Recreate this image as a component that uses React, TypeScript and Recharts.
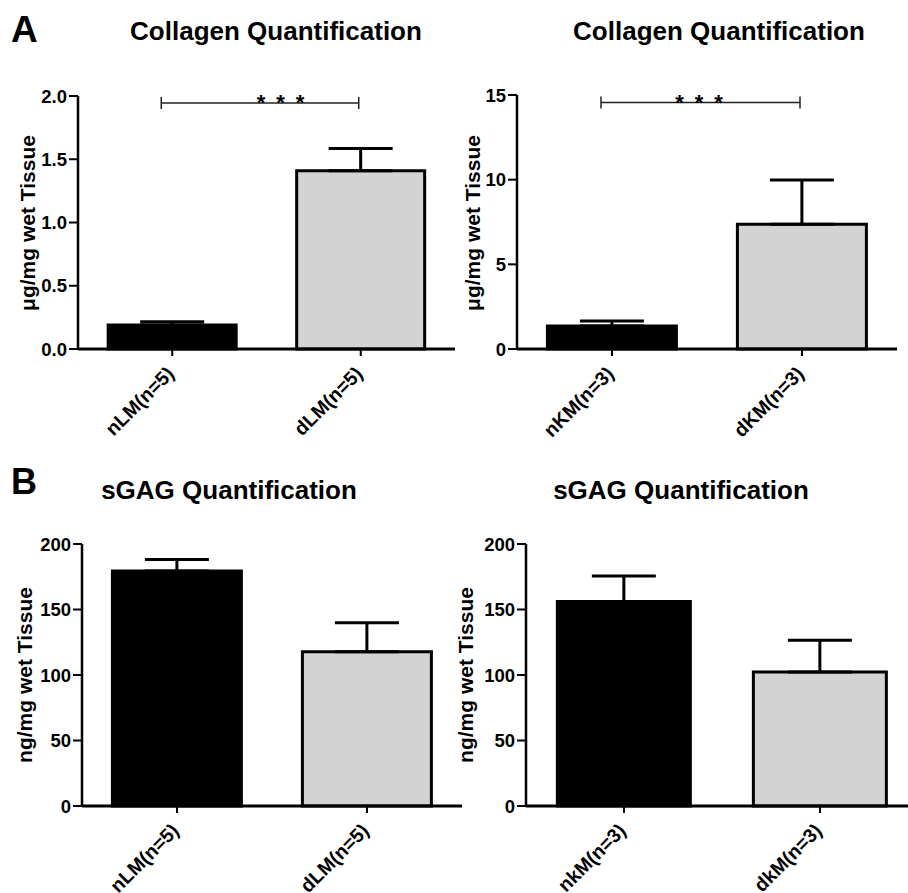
import React from "react";
import { BarChart, Bar, XAxis, YAxis, ErrorBar, Cell, ReferenceLine } from "recharts";

const FONT = "'Liberation Sans', Arial, Helvetica, sans-serif";

// collagen, ligament
const colLmGroups = ["nLM(n=5)", "dLM(n=5)"];
const colLmMean = [0.19, 1.41];
const colLmSem = [0.025, 0.175];
const colLmTicks = [0, 0.5, 1.0, 1.5, 2.0];

// collagen, knee meniscus
const colKmGroups = ["nKM(n=3)", "dKM(n=3)"];
const colKmMean = [1.36, 7.36];
const colKmSem = [0.29, 2.62];
const colKmTicks = [0, 5, 10, 15];

// sGAG
const gagLmGroups = ["nLM(n=5)", "dLM(n=5)"];
const gagLmMean = [179.4, 117.8];
const gagLmSem = [8.8, 22];
const gagKmGroups = ["nkM(n=3)", "dkM(n=3)"];
const gagKmMean = [156.2, 102.3];
const gagKmSem = [19.4, 24.2];
const gagTicks = [0, 50, 100, 150, 200];

const barFills = ["#000000", "#d3d3d3"];

const AngledTick = (props: any) => {
  const { x, y, payload } = props;
  return (
    <g transform={`translate(${x + 3},${y + 17})`}>
      <text
        x={0}
        y={0}
        textAnchor="end"
        transform="rotate(-45)"
        fontFamily={FONT}
        fontWeight="bold"
        fontSize={19.5}
        fill="#000"
      >
        {payload.value}
      </text>
    </g>
  );
};

function bracketShape(starsDx: number) {
  return (p: any) => {
    const x1 = p.x1 - 11;
    const x2 = p.x2 - 2;
    const y = p.y1;
    const mid = (x1 + x2) / 2 + starsDx;
    return (
      <g>
        <line x1={x1} y1={y} x2={x2} y2={y} stroke="#222" strokeWidth={1.5} />
        <line x1={x1} y1={y - 6} x2={x1} y2={y + 6} stroke="#222" strokeWidth={1.5} />
        <line x1={x2} y1={y - 6} x2={x2} y2={y + 6} stroke="#222" strokeWidth={1.5} />
        <text
          x={mid + 6}
          y={y + 7}
          textAnchor="middle"
          fontFamily={FONT}
          fontWeight="bold"
          fontSize={22}
          letterSpacing={11}
          fill="#000"
        >
          ***
        </text>
      </g>
    );
  };
}

interface PanelProps {
  left: number;
  top: number;
  width: number;
  height: number;
  plotTop: number;
  xHeight: number;
  yWidth: number;
  rightGap: number;
  groups: string[];
  means: number[];
  sems: number[];
  ticks: number[];
  fmt?: (v: number) => string;
  bracketY?: number;
  starsDx?: number;
}

function Panel(props: PanelProps) {
  const data = props.groups.map((g, i) => ({
    name: g,
    mean: props.means[i],
    err: [0, props.sems[i]],
  }));
  const max = props.ticks[props.ticks.length - 1];
  return (
    <div style={{ position: "absolute", left: props.left, top: props.top }}>
      <BarChart
        width={props.width}
        height={props.height}
        data={data}
        margin={{ top: props.plotTop, right: props.rightGap, bottom: 0, left: 0 }}
        barCategoryGap="16%"
      >
        <XAxis
          dataKey="name"
          height={props.xHeight}
          tickSize={7}
          tickMargin={2}
          axisLine={{ stroke: "#000", strokeWidth: 3 }}
          tickLine={{ stroke: "#000", strokeWidth: 2 }}
          tick={<AngledTick />}
          interval={0}
        />
        <YAxis
          width={props.yWidth}
          domain={[0, max]}
          ticks={props.ticks}
          tickFormatter={props.fmt}
          tickSize={9}
          tickMargin={2}
          axisLine={{ stroke: "#000", strokeWidth: 2.5 }}
          tickLine={{ stroke: "#000", strokeWidth: 2 }}
          tick={{ fontFamily: FONT, fontWeight: "bold", fontSize: 18.5, fill: "#000" }}
          interval={0}
        />
        <Bar dataKey="mean" stroke="#000" strokeWidth={3} isAnimationActive={false}>
          {data.map((d, i) => (
            <Cell key={d.name} fill={barFills[i]} />
          ))}
          <ErrorBar dataKey="err" direction="y" width={32} stroke="#000" strokeWidth={3} isAnimationActive={false} />
        </Bar>
        {props.bracketY !== undefined && (
          <ReferenceLine
            segment={[
              { x: props.groups[0], y: props.bracketY },
              { x: props.groups[1], y: props.bracketY },
            ]}
            shape={bracketShape(props.starsDx ?? 0)}
            ifOverflow="visible"
          />
        )}
      </BarChart>
    </div>
  );
}

const titleStyle = { fontFamily: FONT, fontWeight: "bold" as const, fill: "#000" };

export default function App() {
  return (
    <div
      style={{
        position: "absolute",
        left: 0,
        top: 0,
        width: 908,
        height: 893,
        overflow: "hidden",
        background: "#fff",
      }}
    >
      <Panel
        left={0}
        top={0}
        width={460}
        height={446}
        plotTop={96}
        xHeight={97}
        yWidth={78}
        rightGap={5}
        groups={colLmGroups}
        means={colLmMean}
        sems={colLmSem}
        ticks={colLmTicks}
        fmt={(v) => v.toFixed(1)}
        bracketY={1.945}
        starsDx={20}
      />
      <Panel
        left={454}
        top={0}
        width={446}
        height={446}
        plotTop={95}
        xHeight={97}
        yWidth={63}
        rightGap={3}
        groups={colKmGroups}
        means={colKmMean}
        sems={colKmSem}
        ticks={colKmTicks}
        bracketY={14.55}
        starsDx={-2}
      />
      <Panel
        left={0}
        top={446}
        width={464}
        height={447}
        plotTop={98}
        xHeight={87}
        yWidth={82}
        rightGap={2}
        groups={gagLmGroups}
        means={gagLmMean}
        sems={gagLmSem}
        ticks={gagTicks}
      />
      <Panel
        left={454}
        top={446}
        width={464}
        height={447}
        plotTop={98}
        xHeight={87}
        yWidth={72}
        rightGap={0}
        groups={gagKmGroups}
        means={gagKmMean}
        sems={gagKmSem}
        ticks={gagTicks}
      />
      <svg
        width={908}
        height={893}
        style={{ position: "absolute", left: 0, top: 0, pointerEvents: "none" }}
      >
        <text x={11} y={42} fontSize={37} {...titleStyle}>A</text>
        <text x={11} y={494} fontSize={36} {...titleStyle}>B</text>
        <text x={276} y={40} fontSize={26} textAnchor="middle" {...titleStyle}>Collagen Quantification</text>
        <text x={719} y={40} fontSize={26} textAnchor="middle" {...titleStyle}>Collagen Quantification</text>
        <text x={229} y={499} fontSize={26} textAnchor="middle" {...titleStyle}>sGAG Quantification</text>
        <text x={681} y={499} fontSize={26} textAnchor="middle" {...titleStyle}>sGAG Quantification</text>
        <text transform="translate(28,223) rotate(-90)" dy="0.35em" fontSize={21} textAnchor="middle" {...titleStyle}>μg/mg wet Tissue</text>
        <text transform="translate(473,223) rotate(-90)" dy="0.35em" fontSize={21} textAnchor="middle" {...titleStyle}>μg/mg wet Tissue</text>
        <text transform="translate(25,675) rotate(-90)" dy="0.35em" fontSize={21} textAnchor="middle" {...titleStyle}>ng/mg wet Tissue</text>
        <text transform="translate(466,675) rotate(-90)" dy="0.35em" fontSize={21} textAnchor="middle" {...titleStyle}>ng/mg wet Tissue</text>
      </svg>
    </div>
  );
}
